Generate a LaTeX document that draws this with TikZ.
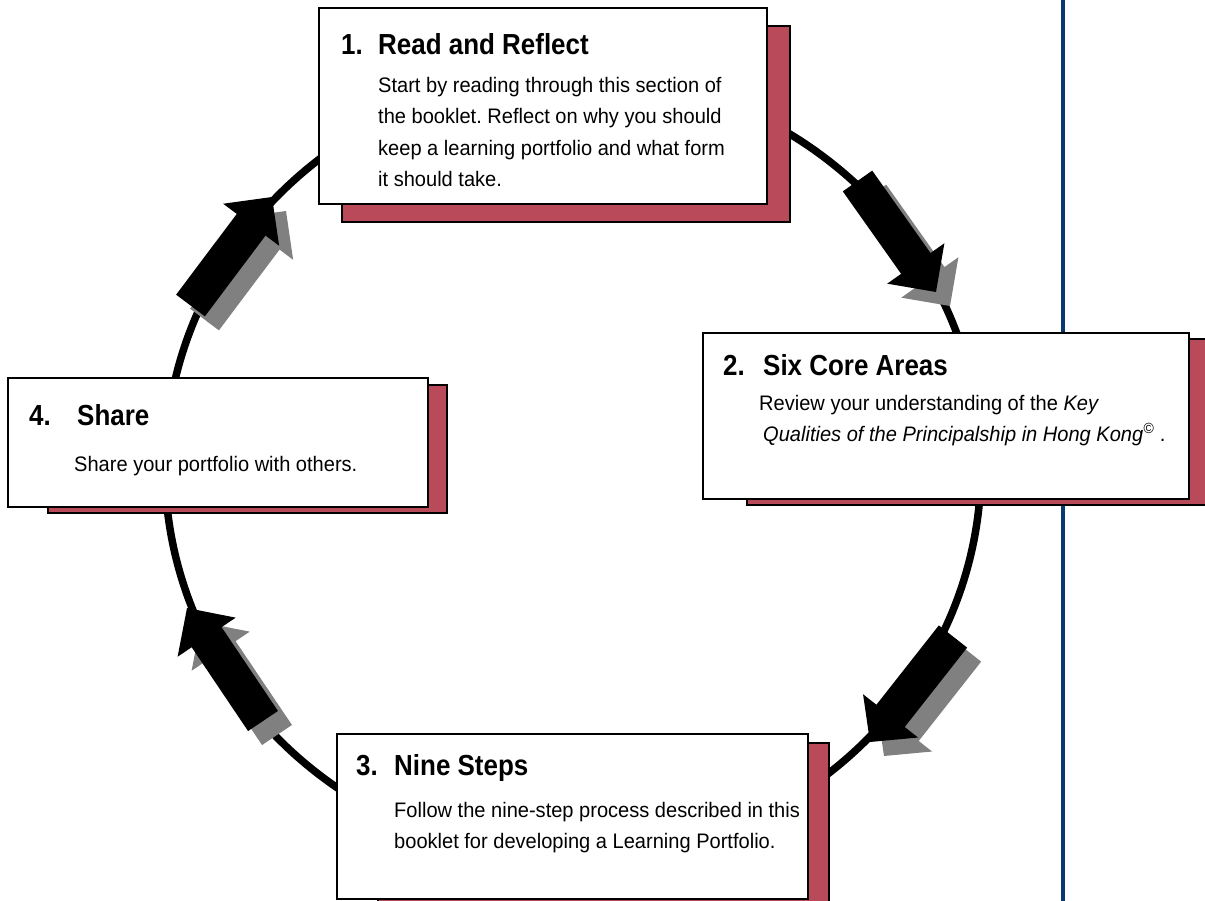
\documentclass[tikz,border=0pt]{standalone}
\usepackage{fontspec}
\setmainfont{Liberation Sans}[FakeStretch=0.955]
\newfontfamily\headfont{Liberation Sans}[FakeStretch=0.895]
\usetikzlibrary{calc}
\frenchspacing

\definecolor{shadowred}{RGB}{185,74,90}
\definecolor{arrowgray}{RGB}{128,128,128}
\definecolor{ruleblue}{RGB}{10,56,112}

\tikzset{
  card/.style={draw=black, line width=1.5pt, fill=white, inner sep=0pt},
  cardshadow/.style={draw=black, line width=1.5pt, fill=shadowred, inner sep=0pt},
  headtext/.style={anchor=base west, inner sep=0pt, font=\headfont\bfseries\fontsize{29}{34}\selectfont},
  bodytext/.style={anchor=base west, inner sep=0pt, font=\fontsize{21}{25}\selectfont},
}

% block arrow from tail centre #1 to tip #2, filled with #3
\newcommand\arrowbody[3]{%
  \coordinate (#1-j) at ($(#1)!101pt!(#2)$);
  \fill[#3] ($(#1)!18pt!90:(#2)$) -- ($(#1-j)!18pt!90:(#2)$) -- ($(#1-j)!35pt!90:(#2)$)
    -- (#2) -- ($(#1-j)!35pt!-90:(#2)$) -- ($(#1-j)!18pt!-90:(#2)$)
    -- ($(#1)!18pt!-90:(#2)$) -- cycle;
}
% arrow with its grey drop shadow
\newcommand\cyclearrow[3]{%
  \coordinate (#1-t) at #2;
  \coordinate (#1-h) at #3;
  \coordinate (#1-st) at ($(#1-t)+(14,14)$);
  \coordinate (#1-sh) at ($(#1-h)+(14,14)$);
  \arrowbody{#1-st}{#1-sh}{arrowgray}
  \arrowbody{#1-t}{#1-h}{black}
}

\begin{document}
\begin{tikzpicture}[x=1pt,y=-1pt]
\useasboundingbox (0,0) rectangle (1205,901);
\clip (0,0) rectangle (1205,901);
\fill[white] (0,0) rectangle (1205,901);

% vertical page rule
\coordinate (ruletop) at (1063,0);
\coordinate (rulebot) at (1063,901);
\draw[ruleblue, line width=4pt] (ruletop) -- (rulebot);

% the cycle
\draw[line width=7.5pt] (573,467) ellipse [x radius=408pt, y radius=393pt];

% arrows along the cycle
\cyclearrow{arrA}{(190.5,305.5)}{(272,197)}
\cyclearrow{arrB}{(857.5,181)}{(936,292)}
\cyclearrow{arrC}{(953,636.5)}{(870,742)}
\cyclearrow{arrD}{(263,721)}{(187,608)}

% card shadows
\node[cardshadow, minimum width=448pt, minimum height=196pt] (s1) at (566,124) {};
\node[cardshadow, minimum width=486pt, minimum height=166pt] (s2) at (990,422) {};
\node[cardshadow, minimum width=451pt, minimum height=182pt] (s3) at (603.5,834) {};
\node[cardshadow, minimum width=399pt, minimum height=128pt] (s4) at (247.5,449) {};

% cards
\node[card, minimum width=448pt, minimum height=196pt] (b1) at (543,106) {};
\node[card, minimum width=486pt, minimum height=166pt] (b2) at (946,416) {};
\node[card, minimum width=471pt, minimum height=165pt] (b3) at (572.5,816.5) {};
\node[card, minimum width=420pt, minimum height=129pt] (b4) at (218,442.5) {};

% card 1
\node[headtext] (n1) at (341,55) {1.};
\node[headtext] (h1) at (378,55) {Read and Reflect};
\node[bodytext] (t1a) at (378,93) {Start by reading through this section of};
\node[bodytext] (t1b) at (378,124) {the booklet. Reflect on why you should};
\node[bodytext] (t1c) at (378,156) {keep a learning portfolio and what form};
\node[bodytext] (t1d) at (378,187) {it should take.};

% card 2
\node[headtext] (n2) at (723,375) {2.};
\node[headtext] (h2) at (763,375) {Six Core Areas};
\node[bodytext] (t2a) at (759,410) {Review your understanding of the \textit{Key}};
\node[bodytext] (t2b) at (763,441) {\textit{Qualities of the Principalship in Hong Kong\textsuperscript{©}} .};

% card 3
\node[headtext] (n3) at (356,775) {3.};
\node[headtext] (h3) at (394,775) {Nine Steps};
\node[bodytext] (t3a) at (394,817) {Follow the nine-step process described in this};
\node[bodytext] (t3b) at (394,848) {booklet for developing a Learning Portfolio.};

% card 4
\node[headtext] (n4) at (29,425) {4.};
\node[headtext] (h4) at (77,425) {Share};
\node[bodytext] (t4a) at (74,471) {Share your portfolio with others.};
\end{tikzpicture}
\end{document}
